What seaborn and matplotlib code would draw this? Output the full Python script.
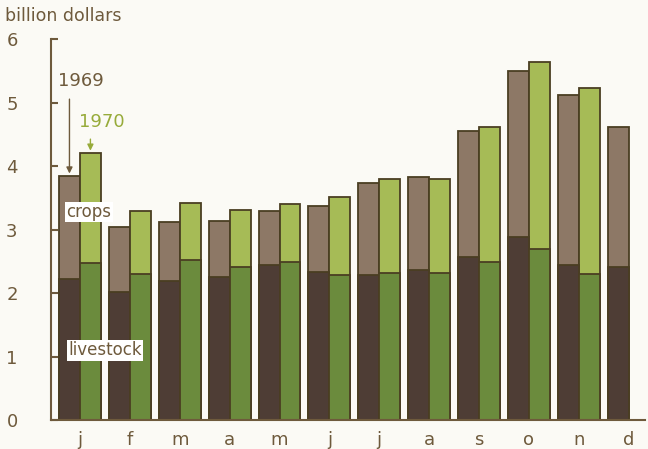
import matplotlib
matplotlib.use("Agg")
import matplotlib.pyplot as plt
import numpy as np
import pandas as pd
import seaborn as sns

# Monthly cash receipts, billion dollars
months = ["Jan", "Feb", "Mar", "Apr", "May", "Jun", "Jul", "Aug", "Sep", "Oct", "Nov", "Dec"]
month_labels = ["j", "f", "m", "a", "m", "j", "j", "a", "s", "o", "n", "d"]
total_1969 = [3.84, 3.04, 3.12, 3.13, 3.30, 3.37, 3.74, 3.83, 4.55, 5.50, 5.12, 4.62]
livestock_1969 = [2.22, 2.02, 2.19, 2.25, 2.44, 2.34, 2.29, 2.36, 2.57, 2.89, 2.44, 2.41]
total_1970 = [4.20, 3.29, 3.42, 3.31, 3.40, 3.51, 3.80, 3.80, 4.62, 5.64, 5.23, np.nan]
livestock_1970 = [2.47, 2.30, 2.52, 2.41, 2.49, 2.29, 2.31, 2.31, 2.49, 2.70, 2.30, np.nan]
years = ["1969", "1970"]

df = pd.DataFrame({
    "month": months * 2,
    "year": [years[0]] * 12 + [years[1]] * 12,
    "total": total_1969 + total_1970,
    "livestock": livestock_1969 + livestock_1970,
})

BG = "#fbfaf5"
TEXT = "#6e5a3c"
EDGE = "#4a3e22"
crops_pal = {"1969": "#8d7866", "1970": "#a6bb56"}
live_pal = {"1969": "#4e3d35", "1970": "#6b8b3d"}

sns.set_theme(style="white")
plt.rcParams["font.family"] = ["DejaVu Sans"]

fig = plt.figure(figsize=(6.48, 4.49), dpi=100, facecolor=BG)
ax = fig.add_axes([0.0787, 0.0646, 0.917, 0.848])
ax.set_facecolor(BG)

common = dict(x="month", hue="year", order=months, hue_order=years,
              width=0.84, gap=0, dodge=True, legend=False, ax=ax,
              edgecolor=EDGE, linewidth=1.3, saturation=1, errorbar=None)
sns.barplot(data=df, y="total", palette=crops_pal, **common)
sns.barplot(data=df, y="livestock", palette=live_pal, **common)

ax.set_xlim(-0.58, 11.33)
ax.set_ylim(0, 6)
ax.set_yticks(range(7))
ax.set_xticks(range(12))
ax.set_xticklabels(month_labels)
ax.set_xlabel("")
ax.set_ylabel("")

for side in ["top", "right"]:
    ax.spines[side].set_visible(False)
for side in ["left", "bottom"]:
    ax.spines[side].set_color(TEXT)
    ax.spines[side].set_linewidth(1.5)

ax.tick_params(axis="y", direction="in", length=5, width=1.5, color=TEXT,
               labelcolor=TEXT, labelsize=13, pad=24, left=True)
ax.tick_params(axis="x", length=0, labelcolor=TEXT, labelsize=13, pad=8)

fig.text(0.008, 0.945, "billion dollars", color=TEXT, fontsize=12.5, ha="left", va="bottom")

# Series annotations
ax.text(0.18, 3.28, "crops", color=TEXT, fontsize=12, ha="center", va="center",
        bbox=dict(facecolor="white", edgecolor="none", pad=1.0))
ax.text(0.5, 1.10, "livestock", color=TEXT, fontsize=12, ha="center", va="center",
        bbox=dict(facecolor="white", edgecolor="none", pad=1.0))

ax.text(0.02, 5.34, "1969", color=TEXT, fontsize=13, ha="center", va="center")
ax.annotate("", xy=(-0.21, total_1969[0]), xytext=(-0.21, 5.1),
            arrowprops=dict(arrowstyle="-|>", color=TEXT, lw=1, mutation_scale=9))
ax.text(0.44, 4.69, "1970", color="#97ab3a", fontsize=13, ha="center", va="center")
ax.annotate("", xy=(0.21, total_1970[0]), xytext=(0.21, 4.47),
            arrowprops=dict(arrowstyle="-|>", color="#97ab3a", lw=1, mutation_scale=9))

fig.savefig("out.png", dpi=100, facecolor=BG)
